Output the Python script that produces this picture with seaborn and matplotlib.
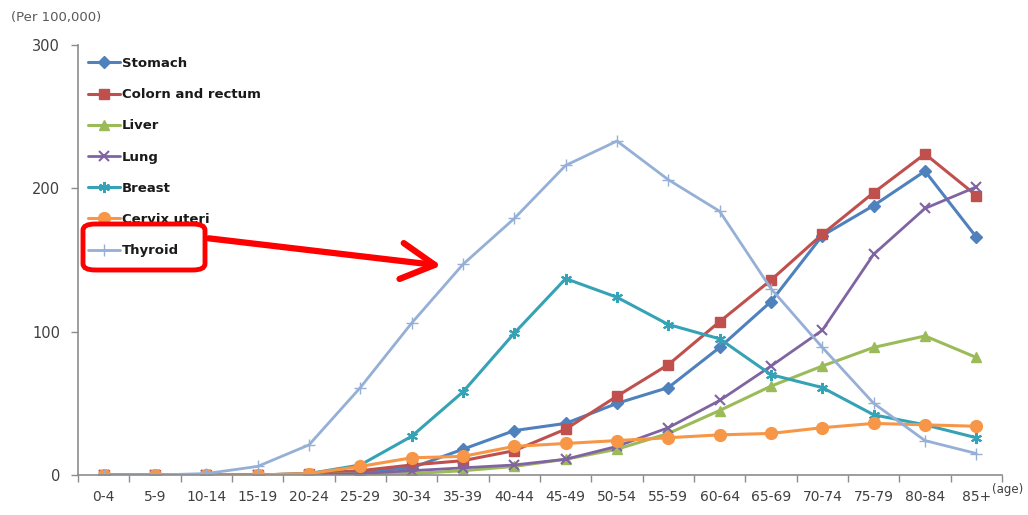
import numpy as np
import pandas as pd
import seaborn as sns
import matplotlib
matplotlib.use("Agg")
import matplotlib.pyplot as plt
from matplotlib.patches import FancyBboxPatch, FancyArrowPatch
from matplotlib.ticker import FixedLocator

# Age groups and incidence per 100,000
age_groups = ["0-4", "5-9", "10-14", "15-19", "20-24", "25-29", "30-34", "35-39",
              "40-44", "45-49", "50-54", "55-59", "60-64", "65-69", "70-74",
              "75-79", "80-84", "85+"]

stomach = [0, 0, 0, 0, 0.5, 2, 5, 18, 31, 36, 50, 61, 89, 121, 167, 188, 212, 166]
colorectal = [0, 0, 0, 0, 1, 3, 7, 10, 17, 32, 55, 77, 107, 136, 168, 197, 224, 195]
liver = [0, 0, 0, 0, 0, 1, 1, 3, 6, 11, 18, 29, 45, 62, 76, 89, 97, 82]
lung = [0, 0, 0, 0, 0, 1, 3, 5, 7, 11, 20, 33, 52, 76, 101, 154, 186, 201]
breast = [0, 0, 0, 0, 1, 7, 27, 58, 99, 137, 124, 105, 95, 70, 61, 42, 35, 26]
cervix = [0, 0, 0, 0, 1, 6, 12, 13, 20, 22, 24, 26, 28, 29, 33, 36, 35, 34]
thyroid = [0, 0, 1, 6, 21, 61, 106, 147, 179, 216, 233, 206, 184, 130, 89, 50, 24, 15]

series_names = ["Stomach", "Colorn and rectum", "Liver", "Lung", "Breast",
                "Cervix uteri", "Thyroid"]
series_values = [stomach, colorectal, liver, lung, breast, cervix, thyroid]

colors = ["#4F81BD", "#C0504D", "#9BBB59", "#8064A2", "#35A2B5", "#F79646", "#95AFD6"]
markers = ["D", "s", "^", "x", (6, 2, 0), "o", "+"]
msizes = [6, 7.5, 7, 7, 8, 8.5, 9]
mews = [1, 1, 1, 1.5, 1.5, 1, 1]
lws = [2.2, 2.2, 2.2, 2.0, 2.2, 2.2, 2.0]

W, H = 1028, 515
fig = plt.figure(figsize=(W / 100, H / 100), dpi=100)
sns.set_style("white")
plt.rcParams["font.family"] = ["DejaVu Sans"]


def px(x, y):
    """Pixel position (top-left origin) to figure fraction."""
    return x / W, 1 - y / H


ax_left, ax_right, ax_top, ax_bottom = 78, 1002, 45, 475
ax = fig.add_axes([ax_left / W, 1 - ax_bottom / H,
                   (ax_right - ax_left) / W, (ax_bottom - ax_top) / H])

x_pos = np.arange(len(age_groups))
for name, vals, c, m, ms, mew, lw in zip(series_names, series_values, colors,
                                         markers, msizes, mews, lws):
    df = pd.DataFrame({"x": x_pos, "y": vals})
    sns.lineplot(data=df, x="x", y="y", ax=ax, color=c, marker=m, markersize=ms,
                 markeredgecolor=c, markerfacecolor=c, markeredgewidth=mew,
                 linewidth=lw, label=name, legend=False)

ax.set_xlim(-0.5, len(age_groups) - 0.5)
ax.set_ylim(0, 300)
ax.set_xlabel("")
ax.set_ylabel("")

ax.set_xticks(x_pos)
ax.set_xticklabels(age_groups)
ax.xaxis.set_minor_locator(FixedLocator(np.arange(-0.5, len(age_groups), 1.0)))
ax.tick_params(axis="x", which="major", length=0, pad=11, labelsize=10,
               labelcolor="#404040")
ax.tick_params(axis="x", which="minor", length=5, width=1, color="#8C8C8C",
               direction="out", bottom=True)
ax.set_yticks([0, 100, 200, 300])
ax.tick_params(axis="y", length=5, width=1, color="#8C8C8C", direction="out",
               pad=8, labelsize=10.5, labelcolor="#404040", left=True)

for s in ["top", "right"]:
    ax.spines[s].set_visible(False)
for s in ["left", "bottom"]:
    ax.spines[s].set_color("#8C8C8C")
    ax.spines[s].set_linewidth(1.2)

leg = ax.legend(loc="upper left", bbox_to_anchor=px(88, 57),
                bbox_transform=fig.transFigure, frameon=False, borderpad=0,
                borderaxespad=0, handlelength=2.4, handletextpad=0.15,
                labelspacing=1.38, prop={"weight": "bold", "size": 9.5})
for t in leg.get_texts():
    t.set_color("#1A1A1A")

fig.text(*px(11, 18), "(Per 100,000)", fontsize=9.5, color="#595959",
         ha="left", va="center")
fig.text(*px(1023, 489), "(age)", fontsize=8.5, color="#404040",
         ha="right", va="center")

# Highlight box around the Thyroid legend entry and arrow to its curve
x0, y0 = px(83, 270)
x1, y1 = px(205, 224)
box = FancyBboxPatch((x0, y0), x1 - x0, y1 - y0,
                     boxstyle="round,pad=0,rounding_size=0.012",
                     transform=fig.transFigure, fill=False,
                     edgecolor="#FF0000", linewidth=3.5, zorder=10)
fig.add_artist(box)
arrow = FancyArrowPatch(px(206, 238), px(444, 266), transform=fig.transFigure,
                        arrowstyle="->,head_length=1.2,head_width=0.65",
                        mutation_scale=20, color="#FF0000", linewidth=4.5,
                        zorder=10, capstyle="round", joinstyle="round")
fig.add_artist(arrow)

fig.savefig("out.png", dpi=100)
